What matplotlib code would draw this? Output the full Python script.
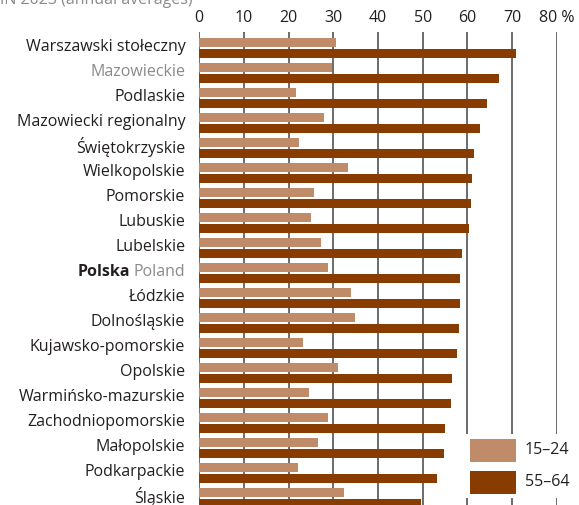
import matplotlib
matplotlib.use("Agg")
import matplotlib.pyplot as plt
from matplotlib.patches import Rectangle
import numpy as np

plt.rcParams['font.family'] = ['Open Sans', 'DejaVu Sans']

regions = ["Warszawski stołeczny", "Mazowieckie", "Podlaskie", "Mazowiecki regionalny",
           "Świętokrzyskie", "Wielkopolskie", "Pomorskie", "Lubuskie", "Lubelskie",
           "Polska Poland", "Łódzkie", "Dolnośląskie", "Kujawsko-pomorskie", "Opolskie",
           "Warmińsko-mazurskie", "Zachodniopomorskie", "Małopolskie", "Podkarpackie",
           "Śląskie"]
age_15_24 = [30.7, 29.8, 21.7, 28.0, 22.4, 33.3, 25.7, 25.0, 27.3, 28.9,
             34.0, 34.9, 23.3, 31.1, 24.6, 28.9, 26.6, 22.2, 32.5]
age_55_64 = [71.0, 67.0, 64.4, 62.8, 61.6, 61.0, 60.8, 60.3, 58.7, 58.3,
             58.3, 58.1, 57.6, 56.5, 56.3, 54.9, 54.7, 53.3, 49.7]
series_labels = ["15–24", "55–64"]
xticks = [0, 10, 20, 30, 40, 50, 60, 70, 80]
xticklabels = ["0", "10", "20", "30", "40", "50", "60", "70", "80 %"]

c_light = "#c08b68"
c_dark = "#883c00"
txt = "#231f20"
gray = "#8a8a8a"
fs = 11.5

W, H = 579, 505
fig = plt.figure(figsize=(W / 100, H / 100), dpi=100)
ax = fig.add_axes([199.3 / W, 0, (556.7 - 199.3) / W, 1 - 32 / H])

y = np.arange(len(regions))
off, h = 0.22, 0.35
ax.barh(y - off, age_15_24, height=h, color=c_light, zorder=3)
ax.barh(y + off, age_55_64, height=h, color=c_dark, zorder=3)

ax.set_xlim(0, 80)
ax.set_ylim(18.286, -0.634)
for s in ax.spines.values():
    s.set_visible(False)
for xv in xticks:
    ax.axvline(xv, color="#444444", lw=1.1, zorder=1)

ax.xaxis.tick_top()
ax.set_xticks(xticks)
ax.set_xticklabels(xticklabels)
ax.tick_params(axis="x", length=0, pad=4, labelsize=fs, labelcolor=txt)
ax.set_yticks([])

# category labels, right-aligned 14 px left of the axis
trans = ax.get_yaxis_transform()
xr = -14 / ax.bbox.width
lift = 0.13
for i, r in enumerate(regions):
    if r == "Polska Poland":
        t2 = ax.text(xr, i - lift, "Poland", transform=trans, ha="right",
                     va="center_baseline", fontsize=fs, color=gray)
        fig.canvas.draw()
        bb = t2.get_window_extent()
        xl = (bb.x0 - 4 - ax.bbox.x0) / ax.bbox.width
        ax.text(xl, i - lift, "Polska", transform=trans, ha="right",
                va="center_baseline", fontsize=fs, color=txt, fontweight="bold")
    else:
        ax.text(xr, i - lift, r, transform=trans, ha="right", va="center_baseline",
                fontsize=fs, color=gray if r == "Mazowieckie" else txt)

# legend
fig.add_artist(Rectangle((460 / W, 1 - 498 / H), 119 / W, 64 / H,
                         transform=fig.transFigure, facecolor="white", edgecolor="none", zorder=5))
for i, (lab, col) in enumerate(zip(series_labels, [c_light, c_dark])):
    top = 439 + i * 32
    fig.add_artist(Rectangle((470 / W, 1 - (top + 23) / H), 46 / W, 23 / H,
                             transform=fig.transFigure, facecolor=col, edgecolor="none", zorder=6))
    fig.text(525 / W, 1 - (top + 11.5) / H, lab, ha="left", va="center",
             fontsize=fs, color=txt, zorder=7)

fig.text(0.0, 1 - 4 / H, "IN 2023 (annual averages)", ha="left", va="baseline",
         fontsize=fs, color=gray)

fig.savefig("out.png", dpi=100)
